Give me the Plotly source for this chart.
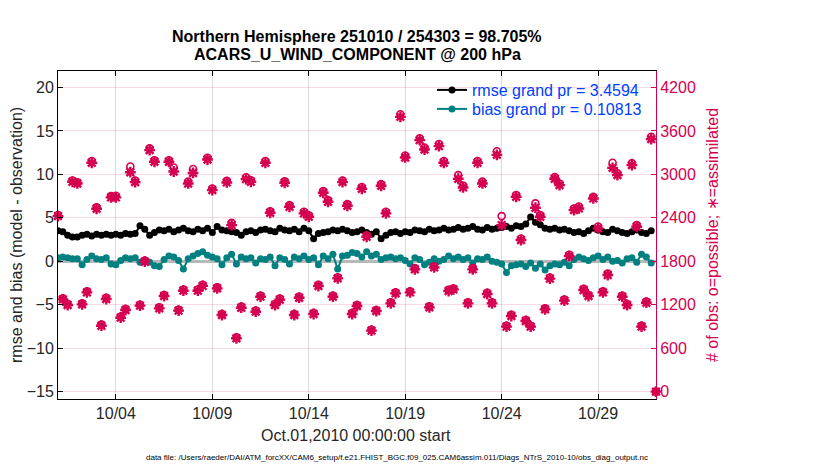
import pandas as pd
import plotly.graph_objects as go

# 6-hourly analysis times, Oct 1 00Z to Nov 1 00Z 2010
times = pd.date_range("2010-10-01 00:00", "2010-11-01 00:00", freq="6h")

rmse = [
    3.5, 3.4, 3.0, 2.8, 2.8, 3.0, 3.1, 2.9, 3.1, 3.0, 3.1, 3.0, 3.1, 3.0, 3.2, 3.1,
    3.2, 4.1, 3.7, 3.0, 3.3, 3.6, 3.5, 3.7, 3.4, 3.6, 3.8, 3.5, 3.4, 3.7, 3.5, 3.8,
    3.3, 4.0, 3.6, 3.5, 3.4, 3.3, 3.0, 3.4, 3.5, 3.3, 3.6, 3.7, 3.5, 3.4, 3.8, 3.6,
    3.5, 3.7, 3.4, 3.8, 3.5, 2.6, 3.2, 3.3, 3.4, 3.6, 3.5, 3.7, 3.5, 3.3, 3.4, 3.6,
    3.3, 3.1, 3.4, 2.6, 3.0, 3.3, 3.4, 3.2, 3.4, 3.3, 3.6, 3.5, 3.4, 3.7, 3.5, 3.6,
    3.8, 3.6, 3.7, 3.9, 3.7, 3.8, 4.0, 3.7, 3.6, 3.9, 3.7, 3.8, 3.9, 4.0, 3.8, 4.1,
    4.0, 4.3, 5.1, 4.5, 4.2, 3.8, 3.7, 3.8, 3.6, 3.7, 3.5, 3.3, 3.4, 3.2, 3.5, 3.8,
    3.6, 3.4, 3.3, 3.7, 3.5, 3.3, 3.2, 3.4, 3.6, 3.3, 3.2, 3.5, None,
]

bias = [
    0.4, 0.5, 0.4, 0.3, 0.3, -0.4, 0.2, 0.6, 0.3, 0.2, 0.4, -0.3, -0.4, 0.1, 0.4, 0.3,
    0.4, -0.1, 0.0, -0.1, -0.5, -0.6, 0.2, 0.6, 0.5, 0.1, -0.9, 0.3, 0.6, 0.9, 1.1, 0.7,
    0.5, 0.3, -0.4, 0.4, 0.8, -0.3, 0.5, 0.3, 0.4, -0.2, 0.3, 0.2, 0.5, -0.5, 0.4, 0.2,
    -0.3, 0.5, 0.3, 0.6, 0.2, 0.4, -0.4, 0.6, 0.3, 0.8, -0.9, 0.6, 0.7, 1.0, 0.9, 0.5,
    1.1, 0.6, 0.8, 0.2, 0.4, 0.5, 0.3, 0.4, 0.1, -0.3, 0.4, 0.2, -0.4, -0.1, 0.3, 0.0,
    0.2, 0.6, 0.3, 0.5, 0.2, 0.4, -0.2, 0.3, 0.2, 0.5, 0.0, -0.1, -0.3, -1.3, -0.5, -0.4,
    -0.3, -0.6, -0.2, -0.8, -0.3, -1.0, -0.5, -0.3, -0.4, -0.1, -0.5, 0.2, 0.5, 0.3, 0.1, 0.4,
    0.6, 0.2, 0.5, 0.0, 0.1, -0.2, 0.3, 0.4, -0.1, 0.8, 0.5, -0.2, None,
]

nposs = [
    2440, 1290, 1210, 2915, 2890, 1220, 1385, 3185, 2545, 925,
    1295, 2700, 2705, 1035, 1140, 3110, 2915, 1200, 1810, 3360,
    3195, 1165, 1335, 3195, 3095, 1130, 1410, 2900, 3075, 1410,
    1475, 3230, 2805, 1440, 1070, 2910, 2330, 750, 1175, 2960,
    2920, 1120, 1325, 3185, 2490, 1210, 1285, 2905, 2575, 1070,
    1310, 2485, 2435, 1085, 1475, 2770, 2645, 1325, 1580, 2915,
    2590, 1085, 1195, 2825, 2160, 855, 1125, 2865, 2485, 1235,
    1370, 3830, 3260, 1385, 1705, 3500, 3370, 1180, 1730, 3420,
    3185, 1405, 1425, 2990, 2845, 1235, 1705, 3185, 2900, 1365,
    1235, 3320, 2424, 910, 1060, 2715, 2115, 990, 910, 2600,
    2440, 1150, 1575, 2965, 2875, 1270, 1890, 2530, 2555, 1420,
    1335, 2690, 2280, 1385, 1630, 3160, 3015, 1325, 1210, 3155,
    2300, 910, 1245, 3520, 0,
]

nused = [
    2424, 1274, 1196, 2898, 2875, 1205, 1370, 3160, 2525, 910,
    1279, 2682, 2682, 1021, 1127, 3030, 2893, 1187, 1794, 3335,
    3174, 1150, 1320, 3174, 3040, 1118, 1394, 2875, 3020, 1394,
    1460, 3206, 2783, 1426, 1058, 2889, 2300, 736, 1159, 2935,
    2898, 1104, 1311, 3160, 2470, 1196, 1270, 2884, 2553, 1058,
    1297, 2461, 2415, 1072, 1458, 2746, 2622, 1311, 1564, 2893,
    2567, 1072, 1182, 2801, 2139, 842, 1113, 2843, 2461, 1219,
    1357, 3795, 3234, 1370, 1688, 3473, 3344, 1164, 1715, 3390,
    3160, 1389, 1412, 2940, 2820, 1219, 1688, 3160, 2875, 1348,
    1219, 3270, 2300, 897, 1044, 2691, 2093, 975, 897, 2540,
    2415, 1136, 1560, 2940, 2852, 1256, 1872, 2507, 2530, 1403,
    1320, 2668, 2254, 1370, 1610, 3090, 2990, 1311, 1196, 3128,
    2277, 897, 1228, 3487, 0,
]

left_ticks = [-15, -10, -5, 0, 5, 10, 15, 20]
right_ticks = [0, 600, 1200, 1800, 2400, 3000, 3600, 4200]

FONT = "Liberation Sans, Arial, Helvetica, sans-serif"
CRIMSON = "rgb(214,0,80)"
TEAL = "rgb(0,128,128)"

# plot box is 598 x 328 px; the page body adds an 8 px offset
PW, PH = 598, 328


def px_x(x):
    return (x - 58) / PW


def px_y(y):
    return (399 - y) / PH


fig = go.Figure()

fig.add_trace(go.Scatter(
    x=times, y=rmse, mode="lines+markers", name="rmse grand pr = 3.4594",
    line=dict(color="black", width=2), marker=dict(color="black", size=7),
    legend="legend",
))
fig.add_trace(go.Scatter(
    x=times, y=bias, mode="lines+markers", name="bias grand pr = 0.10813",
    line=dict(color=TEAL, width=2), marker=dict(color=TEAL, size=7),
    legend="legend2",
))
fig.add_trace(go.Scatter(
    x=times, y=nposs, mode="markers", yaxis="y2", showlegend=False, cliponaxis=False,
    marker=dict(symbol="circle-open", color=CRIMSON, size=7, line=dict(width=1.6)),
))
fig.add_trace(go.Scatter(
    x=times, y=nused, mode="markers", yaxis="y2", showlegend=False, cliponaxis=False,
    marker=dict(symbol="asterisk-open", color=CRIMSON, size=9, line=dict(width=2.4)),
))

legend_style = dict(
    xanchor="left", yanchor="middle", bgcolor="rgba(0,0,0,0)",
    font=dict(size=16, color="#0040ff"), itemwidth=30,
)

fig.update_layout(
    width=822, height=462,
    margin=dict(l=50, r=174, t=63, b=71),
    paper_bgcolor="white", plot_bgcolor="white",
    font=dict(family=FONT, size=16, color="#262626"),
    xaxis=dict(
        range=["2010-10-01", "2010-11-01"],
        tick0="2010-10-04", dtick=5 * 86400000, tickformat="%m/%d",
        ticks="inside", ticklen=5, tickcolor="black",
        showline=True, linecolor="black", linewidth=1, mirror="ticks",
        showgrid=True, gridcolor="#dcdcdc", gridwidth=1,
        tickfont=dict(size=16),
    ),
    yaxis=dict(
        range=[-15.85, 21.9], tickvals=left_ticks,
        ticks="inside", ticklen=5, tickcolor="black",
        showline=True, linecolor="black", linewidth=1,
        showgrid=True, gridcolor="rgba(214,0,80,0.15)", gridwidth=1,
        zeroline=True, zerolinecolor="#b8b8b8", zerolinewidth=2.5,
        tickfont=dict(size=16, color="#262626"),
    ),
    yaxis2=dict(
        overlaying="y", side="right",
        range=[(-15.85 + 15) * 120, (21.9 + 15) * 120], tickvals=right_ticks,
        ticks="inside", ticklen=5, tickcolor=CRIMSON,
        showline=True, linecolor=CRIMSON, linewidth=1,
        showgrid=False, zeroline=False,
        tickfont=dict(size=16, color=CRIMSON),
    ),
    legend=dict(x=px_x(432), y=px_y(90), **legend_style),
    legend2=dict(x=px_x(432), y=px_y(109), **legend_style),
    showlegend=True,
)

fig.add_annotation(
    text="<b>Northern Hemisphere 251010 / 254303 = 98.705%</b>",
    xref="paper", yref="paper", x=px_x(357), y=px_y(37),
    xanchor="center", yanchor="middle", showarrow=False,
    font=dict(size=16, color="black"),
)
fig.add_annotation(
    text="<b>ACARS_U_WIND_COMPONENT @ 200 hPa</b>",
    xref="paper", yref="paper", x=px_x(357), y=px_y(55),
    xanchor="center", yanchor="middle", showarrow=False,
    font=dict(size=16, color="black"),
)
fig.add_annotation(
    text="rmse and bias (model - observation)", textangle=-90,
    xref="paper", yref="paper", x=px_x(16), y=0.5,
    xanchor="center", yanchor="middle", showarrow=False,
    font=dict(size=16, color="#262626"),
)
fig.add_annotation(
    text="# of obs: o=possible; \u2217=assimilated", textangle=-90,
    xref="paper", yref="paper", x=px_x(712), y=0.5,
    xanchor="center", yanchor="middle", showarrow=False,
    font=dict(size=16, color=CRIMSON),
)
fig.add_annotation(
    text="Oct.01,2010 00:00:00 start",
    xref="paper", yref="paper", x=px_x(356), y=px_y(435),
    xanchor="center", yanchor="middle", showarrow=False,
    font=dict(size=16, color="#262626"),
)
fig.add_annotation(
    text="data file: /Users/raeder/DAI/ATM_forcXX/CAM6_setup/f.e21.FHIST_BGC.f09_025.CAM6assim.011/Diags_NTrS_2010-10/obs_diag_output.nc",
    xref="paper", yref="paper", x=px_x(397), y=px_y(457),
    xanchor="center", yanchor="middle", showarrow=False,
    font=dict(size=8, color="black"),
)

fig.write_html("out.html")
